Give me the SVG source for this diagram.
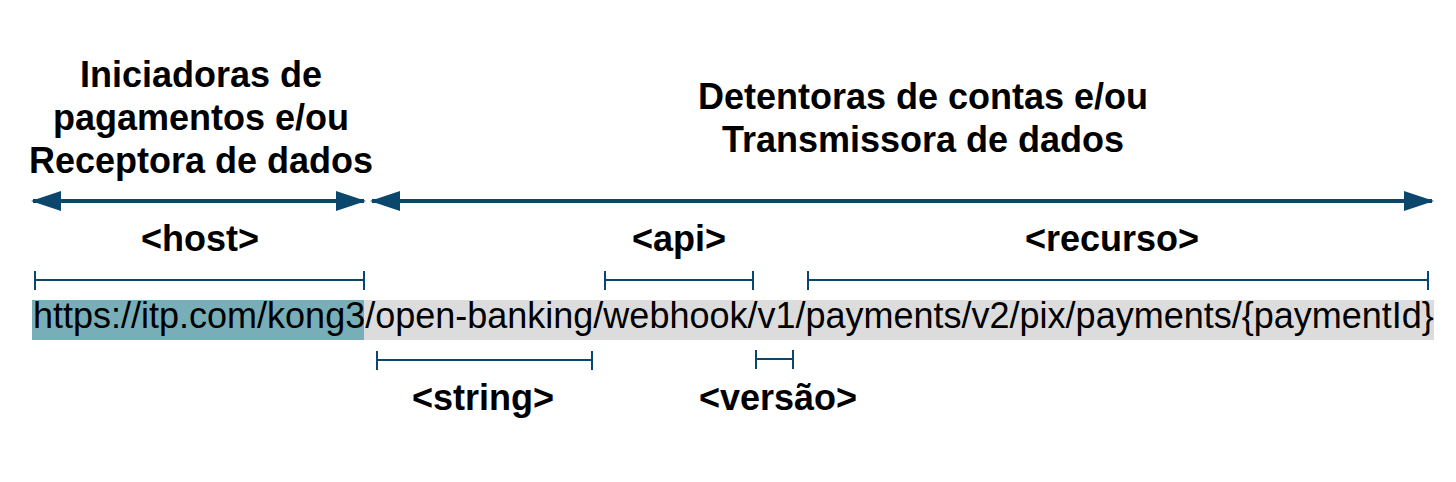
<svg xmlns="http://www.w3.org/2000/svg" width="1456" height="482" viewBox="0 0 1456 482">
<style>
.t{font-family:"Liberation Sans",Arial,sans-serif;font-weight:bold;font-size:36px;fill:#000;text-anchor:middle}
.u{font-family:"Liberation Sans",Arial,sans-serif;font-size:36px;fill:#000}
.arr{stroke:#0B476D;stroke-width:4;fill:none}
.br{stroke:#0B476D;stroke-width:2;fill:none}
</style>
<defs>
<marker id="ah" viewBox="0 0 30 20" refX="28" refY="10" markerWidth="30" markerHeight="20" markerUnits="userSpaceOnUse" orient="auto-start-reverse">
<path d="M0,0 L30,10 L0,20 Z" fill="#0B476D"/>
</marker>
</defs>
<rect width="1456" height="482" fill="#fff"/>
<g id="title-left">
<text class="t" x="201" y="87">Iniciadoras de</text>
<text class="t" x="201" y="130">pagamentos e/ou</text>
<text class="t" x="201" y="173">Receptora de dados</text>
</g>
<g id="title-right">
<text class="t" x="923" y="109">Detentoras de contas e/ou</text>
<text class="t" x="923" y="152">Transmissora de dados</text>
</g>
<g id="url">
<rect x="32" y="300" width="332" height="40" fill="#77AEB8"/>
<rect x="364" y="300" width="1070" height="40" fill="#DCDCDC"/>
<text class="u" x="33" y="328">https://itp.com/kong3/open-banking/webhook/v1/payments/v2/pix/payments/{paymentId}</text>
</g>
<g id="labels">
<text class="t" x="200" y="251">&lt;host&gt;</text>
<text class="t" x="679" y="251">&lt;api&gt;</text>
<text class="t" x="1112" y="251">&lt;recurso&gt;</text>
<text class="t" x="483" y="410">&lt;string&gt;</text>
<text class="t" x="778" y="410">&lt;versão&gt;</text>
</g>
<g id="connectors">
<line class="arr" x1="33" y1="201" x2="364" y2="201" marker-start="url(#ah)" marker-end="url(#ah)"/>
<line class="arr" x1="372" y1="201" x2="1432" y2="201" marker-start="url(#ah)" marker-end="url(#ah)"/>
<path class="br" d="M35,280 H364 M35,271 V290 M364,271 V290"/>
<path class="br" d="M605,280 H753 M605,271 V290 M753,271 V290"/>
<path class="br" d="M808,280 H1428 M808,271 V290 M1428,271 V290"/>
<path class="br" d="M377,360 H592 M377,351 V370 M592,351 V370"/>
<path class="br" d="M756,359 H793 M756,350 V369 M793,350 V369"/>
</g>
</svg>
